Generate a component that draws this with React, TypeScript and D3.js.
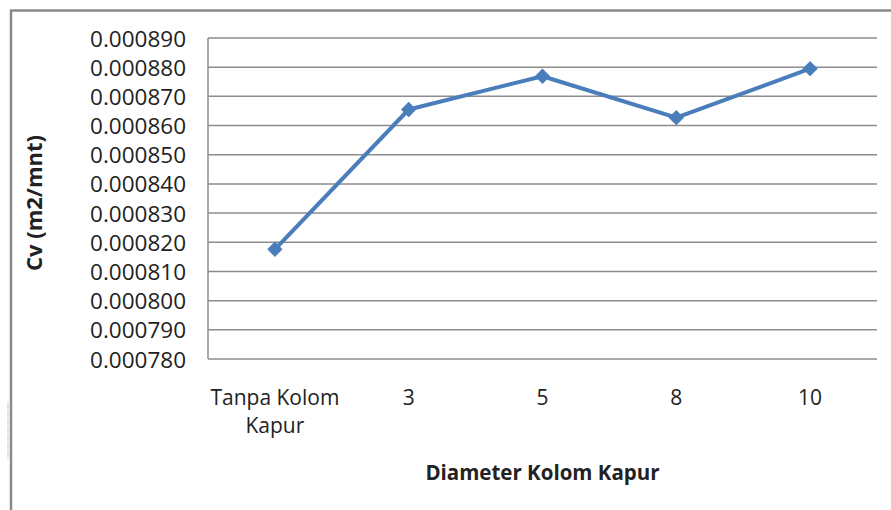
import * as d3 from "d3";
import React from "react";

const categories = ["Tanpa Kolom Kapur", "3", "5", "8", "10"];
const cvValues = [0.0008176, 0.0008655, 0.0008769, 0.0008627, 0.0008795];
const yTicks = [0.00078, 0.00079, 0.0008, 0.00081, 0.00082, 0.00083, 0.00084, 0.00085, 0.00086, 0.00087, 0.00088, 0.00089];
const xTitle = "Diameter Kolom Kapur";
const yTitle = "Cv (m2/mnt)";

const App = () => {
    const ref = React.useRef<SVGSVGElement>(null);

    React.useEffect(() => {
        const w = 891;
        const h = 510;
        const svg = d3.select(ref.current);
        svg.selectAll("*").remove();

        const font = "'Open Sans', 'DejaVu Sans', sans-serif";
        const left = 208, right = 877, top = 38, bottom = 359;

        // outer chart frame (cut off on the right and bottom)
        svg.append("path")
            .attr("d", `M11,${h} L11,10.5 L${w},10.5`)
            .attr("fill", "none")
            .attr("stroke", "#8a8a8a")
            .attr("stroke-width", 2.5);
        svg.append("line")
            .attr("x1", 8).attr("x2", 8)
            .attr("y1", 403).attr("y2", 458)
            .attr("stroke", "#999")
            .attr("stroke-width", 1)
            .attr("stroke-dasharray", "1,1");

        const x = d3.scaleBand()
            .domain(categories)
            .range([left, right]);
        const y = d3.scaleLinear()
            .domain([yTicks[0], yTicks[yTicks.length - 1]])
            .range([bottom, top]);

        // gridlines
        svg.append("g")
            .selectAll("line")
            .data(yTicks)
            .enter()
            .append("line")
            .attr("x1", left)
            .attr("x2", right)
            .attr("y1", d => y(d))
            .attr("y2", d => y(d))
            .attr("stroke", "#8c8c8c")
            .attr("stroke-width", 1.5);

        // y axis line
        svg.append("line")
            .attr("x1", left).attr("x2", left)
            .attr("y1", top).attr("y2", bottom)
            .attr("stroke", "#8c8c8c")
            .attr("stroke-width", 1.5);

        // y tick labels
        svg.append("g")
            .selectAll("text")
            .data(yTicks)
            .enter()
            .append("text")
            .attr("x", 186)
            .attr("y", d => y(d))
            .attr("text-anchor", "end")
            .attr("dominant-baseline", "central")
            .style("font-family", font)
            .style("font-size", "22.5px")
            .style("fill", "#222")
            .text(d => d3.format(".6f")(d));

        // x tick labels
        const xl = svg.append("g")
            .selectAll("text")
            .data(categories)
            .enter()
            .append("text")
            .attr("x", d => (x(d) as number) + x.bandwidth() / 2)
            .attr("y", 397)
            .attr("text-anchor", "middle")
            .attr("dominant-baseline", "central")
            .style("font-family", font)
            .style("font-size", "21px")
            .style("fill", "#222");
        xl.each(function (d) {
            const parts = d === "Tanpa Kolom Kapur" ? ["Tanpa Kolom", "Kapur"] : [d];
            const t = d3.select(this);
            parts.forEach((p, i) => {
                t.append("tspan")
                    .attr("x", (x(d) as number) + x.bandwidth() / 2)
                    .attr("dy", i === 0 ? 0 : 28)
                    .text(p);
            });
        });

        // axis titles
        svg.append("text")
            .attr("x", (left + right) / 2)
            .attr("y", 472)
            .attr("text-anchor", "middle")
            .attr("dominant-baseline", "central")
            .style("font-family", font)
            .style("font-size", "20.5px")
            .style("font-weight", "bold")
            .style("fill", "#222")
            .text(xTitle);
        svg.append("text")
            .attr("transform", "translate(33," + 203 + ") rotate(-90)")
            .attr("text-anchor", "middle")
            .attr("dominant-baseline", "central")
            .style("font-family", font)
            .style("font-size", "22px")
            .style("font-weight", "bold")
            .style("fill", "#222")
            .text(yTitle);

        // series line
        const pts: [number, number][] = categories.map((c, i) => [(x(c) as number) + x.bandwidth() / 2, y(cvValues[i])]);
        svg.append("path")
            .attr("d", d3.line()(pts) as string)
            .attr("fill", "none")
            .attr("stroke", "#4a7ebb")
            .attr("stroke-width", 4)
            .attr("stroke-linejoin", "round");

        // diamond markers
        const diamond = d3.symbol().type(d3.symbolDiamond2).size(150);
        svg.append("g")
            .selectAll("path")
            .data(pts)
            .enter()
            .append("path")
            .attr("transform", d => "translate(" + d[0] + "," + d[1] + ")")
            .attr("d", diamond() as string)
            .attr("fill", "#4a7ebb");
    }, []);

    return (
        <svg
            ref={ref}
            width={891}
            height={510}
            style={{ position: "absolute", left: 0, top: 0, background: "#fff" }}
        ></svg>
    );
};

export default App;
